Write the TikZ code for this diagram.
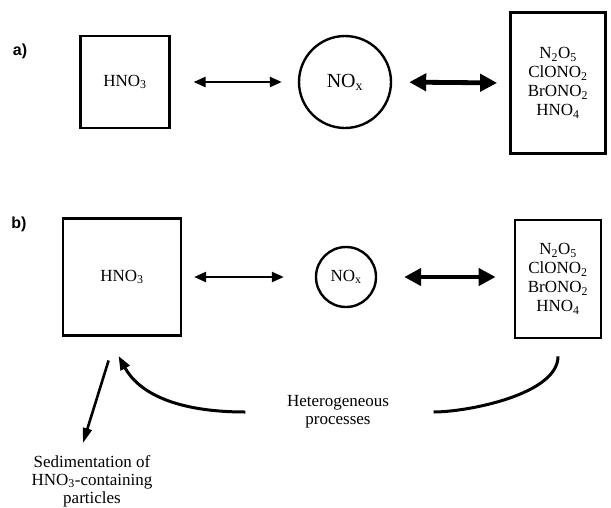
\documentclass[tikz,border=0pt]{standalone}
\usepackage{fontspec}
\setmainfont{Liberation Serif}
\setsansfont{Liberation Sans}
\usetikzlibrary{arrows.meta}

\begin{document}
\begin{tikzpicture}[x=1pt, y=-1pt,
    box/.style={draw, line width=2.2pt, inner sep=0pt, align=center, font=\fontsize{17}{19}\selectfont},
    ring/.style={draw, circle, line width=2.4pt, inner sep=0pt},
    lbl/.style={font=\sffamily\bfseries\fontsize{16}{18}\selectfont},
    txt/.style={align=center, font=\fontsize{17}{18}\selectfont},
    arr/.style={{Triangle[length=12pt,width=10pt]}-{Triangle[length=12pt,width=10pt]}, line width=2.4pt},
    bigarr/.style={{Triangle[length=17pt,width=17pt]}-{Triangle[length=17pt,width=17pt]}, line width=4.8pt},
    curve/.style={line width=3pt},
    curvearr/.style={-{Triangle[length=14pt,width=10pt]}, line width=3pt},
    sedarr/.style={-{Triangle[length=15pt,width=9pt]}, line width=2.6pt}
  ]
  \useasboundingbox (0,0) rectangle (611,507);

  % a)
  \node[lbl] (lbla) at (20,51) {a)};
  \node[box, minimum width=89pt, minimum height=92pt] (hnoa) at (125,82) {HNO\textsubscript{3}};
  \node[ring, minimum size=92pt, font=\fontsize{20}{22}\selectfont] (noxa) at (345,82) {NO\textsubscript{x}};
  \node[box, line width=2.8pt, minimum width=95pt, minimum height=141pt] (rboxa) at (558,83)
    {N\textsubscript{2}O\textsubscript{5}\\ClONO\textsubscript{2}\\BrONO\textsubscript{2}\\HNO\textsubscript{4}};
  \draw[arr, shorten <=23pt, shorten >=16pt] (hnoa.east) -- (noxa.west);
  \draw[bigarr, shorten <=17pt, shorten >=12pt] (noxa.east) -- (rboxa.west);

  % b)
  \node[lbl] (lblb) at (19,224) {b)};
  \node[box, minimum width=118pt, minimum height=117pt] (hnob) at (122,277) {HNO\textsubscript{3}};
  \node[ring, minimum size=60pt, font=\fontsize{17}{19}\selectfont] (noxb) at (346,277) {NO\textsubscript{x}};
  \node[box, line width=2.8pt, minimum width=86pt, minimum height=118pt] (rboxb) at (558,279)
    {N\textsubscript{2}O\textsubscript{5}\\ClONO\textsubscript{2}\\BrONO\textsubscript{2}\\HNO\textsubscript{4}};
  \draw[arr, shorten <=12pt, shorten >=31pt] (hnob.east) -- (noxb.west);
  \draw[bigarr, shorten <=27pt, shorten >=18pt] (noxb.east) -- (rboxb.west |- noxb.east);

  % heterogeneous processes
  \node[txt] (het) at (338,412) {Heterogeneous\\processes};
  \draw[curve, shorten <=17pt, shorten >=41pt] (rboxb.south) .. controls +(0,55) and +(75,0) .. (het.east);
  \draw[curvearr, shorten <=38pt, shorten >=22pt] (het.west) .. controls +(-110,0) and +(30,55) .. ([xshift=-14pt]hnob.south);

  % sedimentation
  \node[txt] (sed) at (92,481) {Sedimentation of\\HNO\textsubscript{3}-containing\\particles};
  \coordinate (sedtip) at (83,443);
  \draw[sedarr, shorten <=25pt] ([xshift=-6pt]hnob.south) -- (sedtip);
\end{tikzpicture}
\end{document}
